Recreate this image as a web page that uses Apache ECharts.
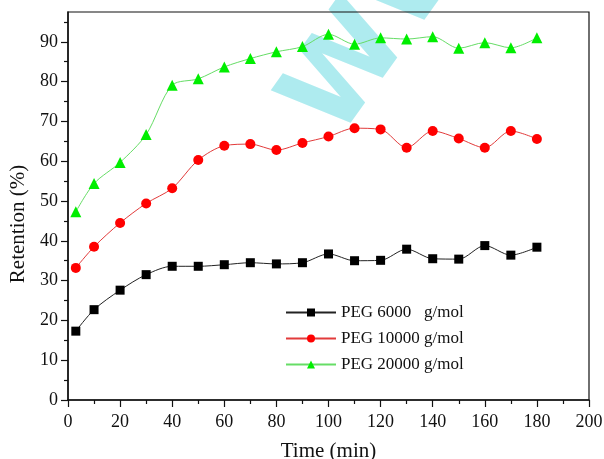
<!DOCTYPE html>
<html>
<head>
<meta charset="utf-8">
<script src="https://cdn.jsdelivr.net/npm/echarts@6/dist/echarts.min.js"></script>
<style>
  html, body { margin: 0; padding: 0; background: #fff; }
  #chart { width: 604px; height: 459px; }
</style>
</head>
<body>
<div id="chart"></div>
<script>
// Sampling times (min)
const times = [3, 10, 20, 30, 40, 50, 60, 70, 80, 90, 100, 110, 120, 130, 140, 150, 160, 170, 180];

// Retention (%) for each PEG molecular weight
const peg6000 = [17.3, 22.7, 27.6, 31.5, 33.6, 33.6, 34.0, 34.5, 34.2, 34.5, 36.7, 35.0, 35.1, 37.9, 35.5, 35.4, 38.8, 36.4, 38.4];
const peg10000 = [33.2, 38.5, 44.5, 49.4, 53.2, 60.3, 63.9, 64.3, 62.8, 64.6, 66.2, 68.3, 68.0, 63.4, 67.6, 65.7, 63.4, 67.6, 65.6];
const peg20000 = [47.3, 54.4, 59.7, 66.7, 79.1, 80.7, 83.7, 85.8, 87.5, 88.8, 91.9, 89.4, 91.0, 90.7, 91.3, 88.4, 89.8, 88.5, 91.0];

const seriesNames = ['PEG 6000   g/mol', 'PEG 10000 g/mol', 'PEG 20000 g/mol'];

// Axis ticks
const yMajorTicks = [0, 10, 20, 30, 40, 50, 60, 70, 80, 90];
const yMinorTicks = [5, 15, 25, 35, 45, 55, 65, 75, 85, 95];

const font = 'Liberation Serif';
const pairs = (ys) => times.map((t, i) => [t, ys[i]]);

const chart = echarts.init(document.getElementById('chart'), null, { renderer: 'canvas' });

chart.setOption({
  backgroundColor: '#fff',
  animation: false,
  grid: {
    left: 68, right: 15, top: 12, bottom: 59,
    outerBoundsMode: 'none', containLabel: false,
    show: true, borderColor: '#111', borderWidth: 1.2, backgroundColor: 'transparent'
  },
  legend: {
    orient: 'vertical',
    left: 280, top: 299,
    itemWidth: 50, itemHeight: 10, itemGap: 9,
    textStyle: { fontFamily: font, fontSize: 17, color: '#111' },
    data: seriesNames
  },
  xAxis: {
    type: 'value', min: 0, max: 200, interval: 20,
    name: 'Time (min)', nameLocation: 'middle', nameGap: 41,
    nameTextStyle: { fontFamily: font, fontSize: 21, color: '#111' },
    axisLine: { lineStyle: { color: '#111', width: 1.5 } },
    axisTick: { show: true, inside: false, length: 7, lineStyle: { color: '#111', width: 1.2 } },
    minorTick: { show: true, splitNumber: 2, length: 4, lineStyle: { color: '#111', width: 1.2 } },
    axisLabel: { fontFamily: font, fontSize: 18, color: '#111', margin: 13 },
    splitLine: { show: false }
  },
  yAxis: [
    {
      type: 'value', min: 0, max: 97.5,
      name: 'Retention (%)', nameLocation: 'middle', nameGap: 38, nameRotate: 90,
      nameTextStyle: { fontFamily: font, fontSize: 21, color: '#111', padding: [0, 36, 0, 0] },
      axisLine: { show: true, lineStyle: { color: '#111', width: 1.5 } },
      axisTick: { show: true, inside: false, length: 7, customValues: yMajorTicks, lineStyle: { color: '#111', width: 1.2 } },
      axisLabel: { fontFamily: font, fontSize: 18, color: '#111', margin: 10, customValues: yMajorTicks },
      splitLine: { show: false }
    },
    {
      type: 'value', min: 0, max: 97.5, position: 'left',
      axisLine: { show: false },
      axisTick: { show: true, inside: false, length: 4, customValues: yMinorTicks, lineStyle: { color: '#111', width: 1.2 } },
      axisLabel: { show: false },
      splitLine: { show: false }
    }
  ],
  graphic: [
    {
      type: 'text', z: -1, silent: true,
      x: 266, y: 91, rotation: 0.95,
      style: {
        text: 'WWW', fontFamily: 'DejaVu Sans', fontWeight: 'bold', fontSize: 115,
        textAlign: 'left', textVerticalAlign: 'top',
        fill: '#aeebef'
      }
    }
  ],
  series: [
    {
      name: seriesNames[0], type: 'line', data: pairs(peg6000), smooth: 0.3,
      symbol: 'rect', symbolSize: 9,
      lineStyle: { color: '#222', width: 1 },
      itemStyle: { color: '#000' }, z: 3
    },
    {
      name: seriesNames[1], type: 'line', data: pairs(peg10000), smooth: 0.3,
      symbol: 'circle', symbolSize: 10,
      lineStyle: { color: '#e23b3b', width: 1 },
      itemStyle: { color: '#ff0000' }, z: 3
    },
    {
      name: seriesNames[2], type: 'line', data: pairs(peg20000), smooth: 0.3,
      symbol: 'triangle', symbolSize: 11,
      lineStyle: { color: '#66dd66', width: 1 },
      itemStyle: { color: '#00ee00' }, z: 3
    }
  ]
});
</script>
</body>
</html>
